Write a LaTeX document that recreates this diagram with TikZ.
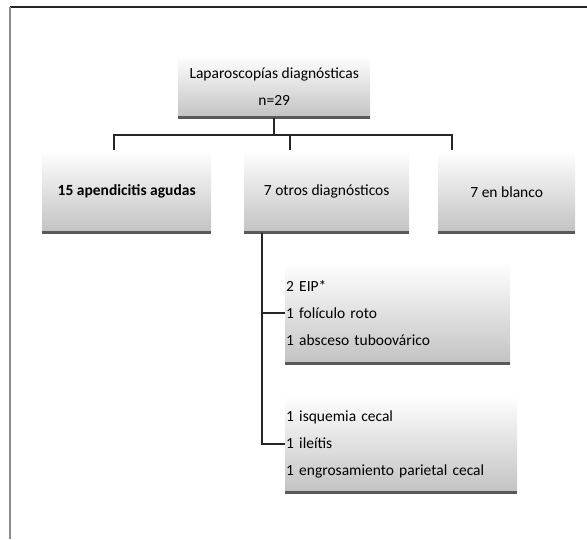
\documentclass[tikz,border=0pt]{standalone}
\usepackage{fontspec}
\setmainfont{Carlito}
\usepackage{tikz}
\usepackage{xcolor}

\tikzset{
  caja/.style={anchor=north west, top color=white, middle color=black!4, bottom color=black!24,
    inner xsep=1pt, inner ysep=0pt, font=\fontsize{15.5}{27}\selectfont,
    path picture={\draw[line width=4pt, black!65]
      (path picture bounding box.south west) -- (path picture bounding box.south east);}},
  rama/.style={line width=1.5pt, black!85}
}

\begin{document}
\begin{tikzpicture}[x=1pt, y=-1pt]
\useasboundingbox (0,0) rectangle (587,539);
% marco
\draw[black!85, line width=1.3pt] (10,7) -- (587,7);
\draw[black!45, line width=2pt] (10,7) -- (10,539);
% cajas
\node[caja, align=center, minimum width=192pt, minimum height=63pt] (top) at (178,55)
  {Laparoscopías diagnósticas\\n=29};
\node[caja, minimum width=169pt, minimum height=83pt, font=\fontsize{15.5}{27}\selectfont\bfseries] (apend) at (42,150)
  {15 apendicitis agudas};
\node[caja, minimum width=165pt, minimum height=83pt] (otros) at (244,150) {7 otros diagnósticos};
\node[caja, minimum width=137pt, minimum height=83pt] (blanco) at (438,150) {7 en blanco};
\node[caja, align=left, text width=223pt, minimum height=102pt] (eip) at (285,262)
  {2 EIP*\\1 folículo roto\\1 absceso tuboovárico};
\node[caja, align=left, text width=230pt, minimum height=98pt] (isq) at (285,395)
  {1 isquemia cecal\\1 ileítis\\1 engrosamiento parietal cecal};
% ramas
\draw[rama] (top.south) -- ++(0,17);
\draw[rama] ([xshift=72pt]apend.north west) -- ++(0,-15) -| ([xshift=14pt]blanco.north west);
\draw[rama] ([xshift=46pt]otros.north west) -- ++(0,-15);
\coordinate (tronco) at ([xshift=18pt]otros.south west);
\draw[rama] (tronco) |- (isq.west);
\draw[rama] (tronco |- eip.west) -- (eip.west);
\end{tikzpicture}
\end{document}
